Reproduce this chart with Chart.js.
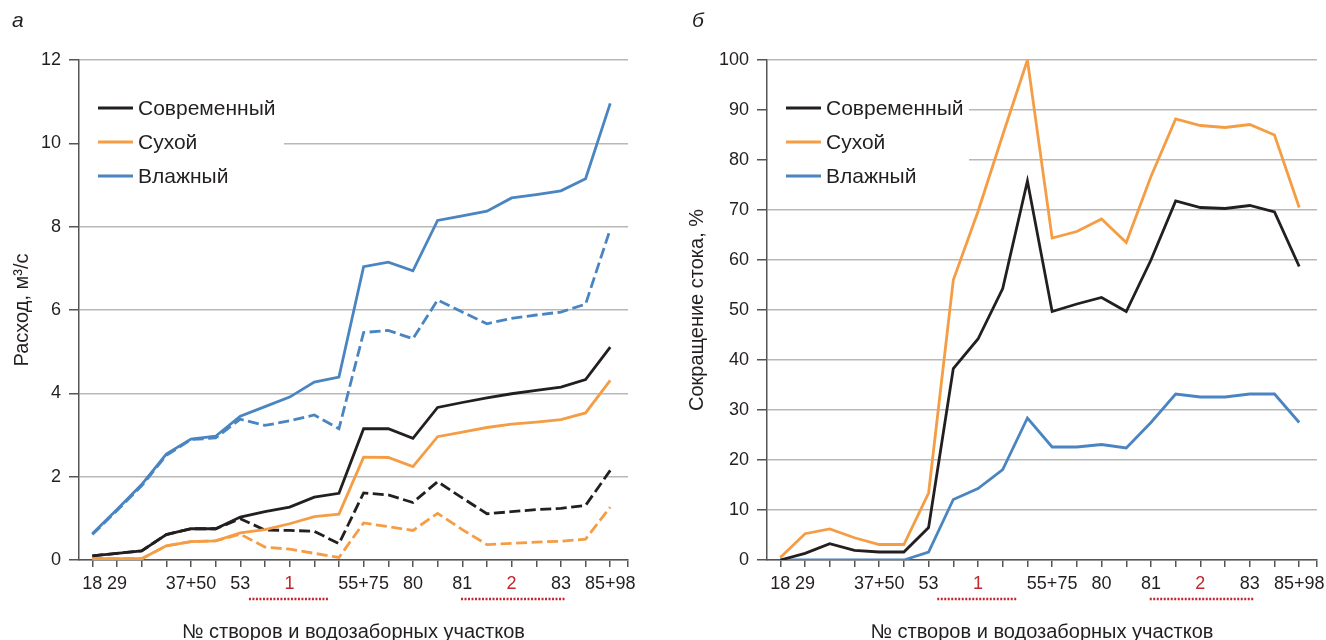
<!DOCTYPE html>
<html>
<head>
<meta charset="utf-8">
<script src="https://cdn.jsdelivr.net/npm/chart.js@4.4.1/dist/chart.umd.min.js"></script>
<style>
  body { margin: 0; background: #fff; }
  #wrap { position: relative; width: 1326px; height: 640px; overflow: hidden; }
  canvas { position: absolute; top: 0; }
  .panel { position: absolute; top: 8px; font: italic 21px "Liberation Sans", Arial, sans-serif; color: #231f20; }
</style>
</head>
<body>
<div id="wrap">
  <canvas id="chartA" width="663" height="640" style="left:0"></canvas>
  <canvas id="chartB" width="663" height="640" style="left:663px"></canvas>
  <div class="panel" style="left:12px">а</div>
  <div class="panel" style="left:692px">б</div>
</div>
<script>
// x categories (створы), empty = unlabeled point
const xLabels = ['18', '29', '', '', '37+50', '', '53', '', '1', '', '', '55+75', '', '80', '', '81', '', '2', '', '83', '', '85+98'];
const groupLabels = ['1', '2'];

// (а) расход, м3/с — сплошные
const qCurrent = [0.10, 0.16, 0.22, 0.61, 0.75, 0.75, 1.03, 1.16, 1.27, 1.51, 1.60, 3.15, 3.15, 2.92, 3.66, 3.78, 3.89, 3.99, 4.07, 4.15, 4.33, 5.11];
const qDry     = [0.03, 0.03, 0.03, 0.34, 0.44, 0.46, 0.65, 0.73, 0.87, 1.04, 1.10, 2.47, 2.46, 2.24, 2.96, 3.07, 3.18, 3.26, 3.31, 3.37, 3.53, 4.31];
const qWet     = [0.63, 1.21, 1.81, 2.54, 2.90, 2.97, 3.45, 3.68, 3.91, 4.27, 4.39, 7.04, 7.15, 6.94, 8.15, 8.26, 8.37, 8.69, 8.77, 8.86, 9.15, 10.96];
// (а) с учётом водозаборов — пунктир
const qCurrentW = [0.10, 0.16, 0.22, 0.61, 0.75, 0.75, 0.99, 0.72, 0.71, 0.69, 0.39, 1.61, 1.56, 1.38, 1.88, 1.49, 1.11, 1.16, 1.21, 1.24, 1.31, 2.15];
const qDryW     = [0.03, 0.03, 0.03, 0.34, 0.44, 0.46, 0.62, 0.31, 0.26, 0.16, 0.06, 0.89, 0.80, 0.71, 1.12, 0.73, 0.37, 0.40, 0.43, 0.45, 0.50, 1.27];
const qWetW     = [0.61, 1.19, 1.78, 2.51, 2.89, 2.93, 3.38, 3.23, 3.34, 3.48, 3.15, 5.46, 5.51, 5.31, 6.24, 5.95, 5.67, 5.80, 5.88, 5.95, 6.14, 7.94];

// (б) сокращение стока, %
const cutCurrent = [0, 1.33, 3.26, 1.93, 1.6, 1.6, 6.5, 38.3, 44.2, 54.3, 75.8, 49.7, 51.2, 52.5, 49.7, 60.0, 71.8, 70.5, 70.3, 70.9, 69.6, 58.7];
const cutDry     = [0.5, 5.25, 6.2, 4.45, 3.1, 3.1, 13.4, 56.0, 69.7, 85.0, 100, 64.4, 65.7, 68.2, 63.5, 76.7, 88.2, 86.9, 86.5, 87.1, 85.0, 70.5];
const cutWet     = [0, 0, 0, 0, 0, 0, 1.6, 12.1, 14.3, 18.1, 28.4, 22.6, 22.6, 23.1, 22.4, 27.5, 33.2, 32.6, 32.6, 33.2, 33.2, 27.5];

const BLACK = '#231f20', ORANGE = '#f59d45', BLUE = '#4a85c1', RED = '#c1272d';
const FONT = '"Liberation Sans", Arial, sans-serif';
Chart.defaults.font.family = FONT;
Chart.defaults.color = BLACK;

function series(label, values, color, dashed) {
    return {
        label: label,
        data: values.map((v, i) => ({ x: i, y: v })),
        borderColor: color,
        borderWidth: 2.8,
        borderDash: dashed ? [11, 4.5] : undefined,
        pointRadius: 0,
        tension: 0,
        fill: false
    };
}

// legend inside the plot + dotted red marks under groups 1 and 2
const extras = {
    id: 'extras',
    beforeDatasetsDraw(chart, args, opts) {
        const { ctx, chartArea } = chart;
        ctx.save();
        ctx.fillStyle = '#fff';
        ctx.fillRect(chartArea.left + 1, opts.boxTop, opts.boxWidth, opts.boxHeight);
        ctx.font = '21px ' + FONT;
        ctx.textBaseline = 'middle';
        chart.data.datasets.filter(d => !d.borderDash).forEach((d, i) => {
            const y = opts.rowY + i * 34;
            ctx.strokeStyle = d.borderColor;
            ctx.lineWidth = 3;
            ctx.beginPath();
            ctx.moveTo(chartArea.left + 19, y);
            ctx.lineTo(chartArea.left + 54, y);
            ctx.stroke();
            ctx.fillStyle = BLACK;
            ctx.fillText(d.label, chartArea.left + 59, y + 1);
        });
        ctx.restore();
    },
    afterDraw(chart, args, opts) {
        const { ctx, scales: { x } } = chart;
        const y = chart.chartArea.bottom + 39;
        ctx.save();
        ctx.strokeStyle = RED;
        ctx.lineWidth = 2.5;
        ctx.setLineDash([2, 1.5]);
        opts.groups.forEach(g => {
            ctx.beginPath();
            ctx.moveTo(x.getPixelForValue(g[0]), y);
            ctx.lineTo(x.getPixelForValue(g[1]), y);
            ctx.stroke();
        });
        ctx.restore();
    }
};

function makeChart(id, datasets, yMax, yStep, yTitle, yTitlePad, padRight, legendBox) {
    return new Chart(document.getElementById(id), {
        type: 'line',
        data: { datasets: datasets },
        plugins: [extras],
        options: {
            responsive: false,
            animation: false,
            layout: { padding: { left: 0, right: padRight, top: 60, bottom: 0 } },
            plugins: {
                legend: { display: false },
                tooltip: { enabled: false },
                extras: Object.assign({ groups: [[6.35, 9.6], [14.95, 19.2]] }, legendBox)
            },
            scales: {
                x: {
                    type: 'linear',
                    min: -0.54,
                    max: 21.72,
                    afterBuildTicks: axis => {
                        axis.ticks = xLabels.map((_, i) => ({ value: i })).concat([{ value: axis.max }]);
                    },
                    afterFit: s => { s.height = 80; },
                    ticks: {
                        autoSkip: false,
                        maxRotation: 0,
                        padding: 6,
                        font: { size: 18 },
                        color: c => groupLabels.includes(xLabels[c.tick.value]) ? RED : BLACK,
                        callback: v => xLabels[v] ?? ''
                    },
                    grid: { drawOnChartArea: false, drawTicks: true, tickLength: 7, tickColor: '#555', lineWidth: 1.5 },
                    border: { color: '#555', width: 1.5 },
                    title: {
                        display: true,
                        text: '№ створов и водозаборных участков',
                        font: { size: 20, lineHeight: 1 },
                        padding: { top: 0, bottom: -2 },
                        color: BLACK
                    }
                },
                y: {
                    min: 0,
                    max: yMax,
                    afterFit: s => { s.width = padRight === 35 ? 79 : 104; },
                    ticks: { stepSize: yStep, padding: 8, font: { size: 18 } },
                    grid: { color: '#b8b8b8', lineWidth: 1.5, tickLength: 10, tickColor: '#555' },
                    border: { color: '#555', width: 1.5 },
                    title: {
                        display: true,
                        text: yTitle,
                        font: { size: 20 },
                        padding: { top: yTitlePad, bottom: 0 },
                        color: BLACK
                    }
                }
            }
        }
    });
}

makeChart('chartA', [
    series('Современный', qCurrent, BLACK, false),
    series('Сухой', qDry, ORANGE, false),
    series('Влажный', qWet, BLUE, false),
    series('Современный (водозабор)', qCurrentW, BLACK, true),
    series('Сухой (водозабор)', qDryW, ORANGE, true),
    series('Влажный (водозабор)', qWetW, BLUE, true)
], 12, 2, 'Расход, м³/с', 10, 35, { boxTop: 88, boxWidth: 204, boxHeight: 108, rowY: 108 });

makeChart('chartB', [
    series('Современный', cutCurrent, BLACK, false),
    series('Сухой', cutDry, ORANGE, false),
    series('Влажный', cutWet, BLUE, false)
], 100, 10, 'Сокращение стока, %', 22, 9, { boxTop: 88, boxWidth: 201, boxHeight: 108, rowY: 108 });
</script>
</body>
</html>
